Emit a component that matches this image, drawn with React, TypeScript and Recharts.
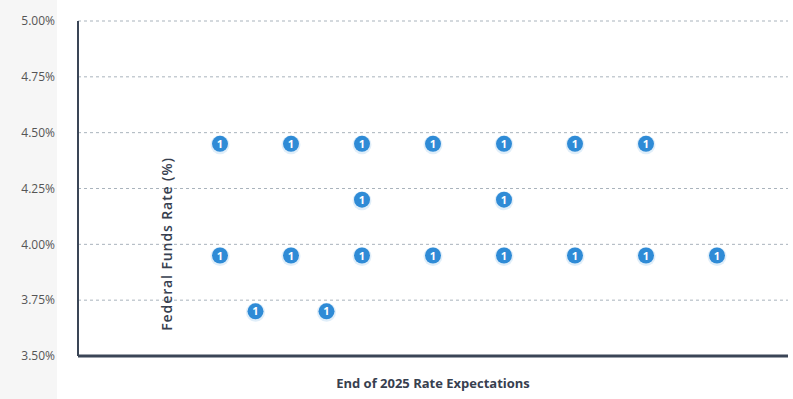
import { ScatterChart, Scatter, XAxis, YAxis, CartesianGrid } from "recharts"

// horizontal slot of each dot (0..20 across the plot) and the rate it sits at
const slots = [4, 6, 8, 10, 12, 14, 16, 8, 12, 4, 6, 8, 10, 12, 14, 16, 18, 5, 7]
const rates = [
  4.45, 4.45, 4.45, 4.45, 4.45, 4.45, 4.45,
  4.2, 4.2,
  3.95, 3.95, 3.95, 3.95, 3.95, 3.95, 3.95, 3.95,
  3.7, 3.7,
]
const counts = [1, 1, 1, 1, 1, 1, 1, 1, 1, 1, 1, 1, 1, 1, 1, 1, 1, 1, 1]
const yTicks = [3.5, 3.75, 4.0, 4.25, 4.5, 4.75, 5.0]

const data = slots.map((s, i) => ({ x: s, y: rates[i], n: counts[i] }))

const FONT = "'Open Sans', 'Noto Sans', sans-serif"
const BLUE = "#2f8bd6"
const INK = "#37404f"

const Dot = (props: any) => {
  const { cx, cy, payload } = props
  return (
    <g>
      <circle cx={cx} cy={cy + 1} r={9.5} fill="#2f8bd6" opacity={0.15} />
      <circle cx={cx} cy={cy} r={8} fill={BLUE} />
      <text
        x={cx}
        y={cy + 4}
        textAnchor="middle"
        fill="#fff"
        fontSize={11}
        fontWeight={700}
        fontFamily={FONT}
      >
        {payload.n}
      </text>
    </g>
  )
}

// y title sits inside the plot, as in the original
const YTitle = () => (
  <text
    x={172}
    y={244}
    transform="rotate(-90 172 244)"
    textAnchor="middle"
    fill={INK}
    fontSize={14}
    fontWeight={600}
    letterSpacing={0.9}
    fontFamily={FONT}
  >
    Federal Funds Rate (%)
  </text>
)

export default function App() {
  return (
    <div
      style={{
        position: "fixed",
        left: 0,
        top: 0,
        width: 793,
        height: 399,
        background: "linear-gradient(to right, #f6f6f6 0, #f6f6f6 57px, #fff 57px)",
      }}
    >
      <ScatterChart width={793} height={399} margin={{ top: 21, right: 5, left: 0, bottom: 0 }}>
        <CartesianGrid
          horizontal
          vertical={false}
          strokeDasharray="3 3"
          stroke="#a9b3bc"
        />
        <XAxis
          type="number"
          dataKey="x"
          domain={[0, 20]}
          tick={false}
          tickLine={false}
          height={43}
          axisLine={{ stroke: "#3a4556", strokeWidth: 3 }}
          label={{
            value: "End of 2025 Rate Expectations",
            position: "insideBottom",
            offset: 11,
            fill: INK,
            fontSize: 13,
            fontWeight: 700,
            fontFamily: FONT,
          }}
        />
        <YAxis
          type="number"
          dataKey="y"
          domain={[3.5, 5.0]}
          ticks={yTicks}
          width={78}
          tickSize={0}
          tickMargin={23}
          tickLine={false}
          axisLine={{ stroke: "#3a4556", strokeWidth: 2 }}
          tickFormatter={(v: number) => `${v.toFixed(2)}%`}
          tick={{ fill: "#555", fontSize: 12, fontFamily: FONT }}
          label={{ content: YTitle }}
        />
        <Scatter data={data} shape={Dot} isAnimationActive={false} />
      </ScatterChart>
    </div>
  )
}
